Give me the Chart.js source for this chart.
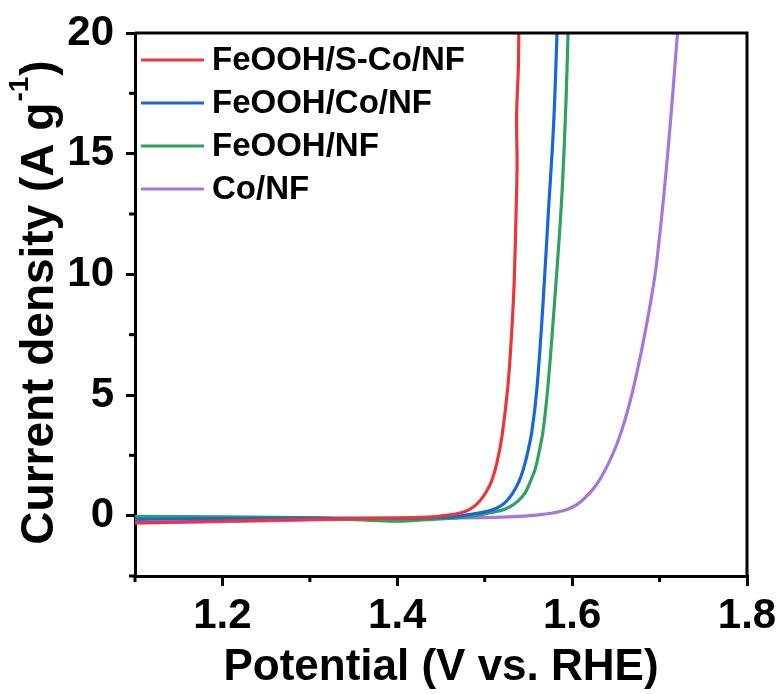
<!DOCTYPE html>
<html>
<head>
<meta charset="utf-8">
<script src="https://cdn.jsdelivr.net/npm/chart.js@4.4.1/dist/chart.umd.min.js"></script>
<style>
  html, body { margin: 0; padding: 0; background: #fff; }
  #wrap { width: 782px; height: 694px; }
</style>
</head>
<body>
<div id="wrap"><canvas id="lsv"></canvas></div>
<script>
// LSV curves, potential (V vs. RHE) against current density (A g-1)
var labels = ['FeOOH/S-Co/NF', 'FeOOH/Co/NF', 'FeOOH/NF', 'Co/NF'];
var colors = ['rgb(236,54,54)', 'rgb(24,102,222)', 'rgb(46,162,94)', 'rgb(168,116,222)'];

var redV = [1.10, 1.20, 1.30, 1.40, 1.44, 1.455, 1.467, 1.4775, 1.487, 1.4946, 1.502, 1.508, 1.514, 1.5198, 1.5266, 1.5305, 1.5335, 1.5355, 1.5370, 1.5365, 1.5385, 1.539];
var redJ = [-0.30, -0.22, -0.15, -0.10, -0.05, 0.01, 0.07, 0.17, 0.36, 0.62, 1.0, 1.45, 2.2, 3.3, 5.4, 7.4, 9.5, 12.0, 14.5, 16.6, 18.6, 20];

var blueV = [1.10, 1.20, 1.30, 1.40, 1.46, 1.482, 1.4946, 1.507, 1.517, 1.525, 1.532, 1.539, 1.544, 1.549, 1.554, 1.5598, 1.5667, 1.5735, 1.5775, 1.580, 1.5827];
var blueJ = [-0.15, -0.12, -0.10, -0.10, -0.06, 0.04, 0.12, 0.22, 0.37, 0.6, 0.93, 1.4, 1.9, 2.6, 3.5, 5.3, 8.8, 13.0, 15.3, 17.2, 20];

var greenV = [1.10, 1.20, 1.30, 1.36, 1.40, 1.44, 1.48, 1.495, 1.506, 1.519, 1.529, 1.538, 1.546, 1.552, 1.5575, 1.562, 1.5667, 1.5724, 1.580, 1.588, 1.593, 1.5953];
var greenJ = [-0.03, -0.05, -0.08, -0.18, -0.23, -0.15, -0.05, 0.04, 0.12, 0.22, 0.37, 0.6, 0.93, 1.4, 1.9, 2.6, 3.5, 5.4, 8.9, 13.1, 17.2, 20];

var purpleV = [1.10, 1.20, 1.30, 1.40, 1.50, 1.54, 1.563, 1.576, 1.586, 1.594, 1.601, 1.607, 1.6124, 1.618, 1.625, 1.632, 1.642, 1.651, 1.659, 1.666, 1.672, 1.678, 1.684, 1.690, 1.696, 1.706, 1.714, 1.7205];
var purpleJ = [-0.30, -0.25, -0.18, -0.13, -0.08, -0.03, 0.04, 0.10, 0.17, 0.26, 0.37, 0.50, 0.66, 0.86, 1.15, 1.52, 2.2, 2.95, 3.8, 4.7, 5.6, 6.6, 7.7, 8.9, 10.3, 13.7, 17.0, 20];

var xMin = 1.1, xMax = 1.8, xStep = 0.1;
var yMin = -2.5, yMax = 20, yStep = 2.5;

function pts(v, j) {
  var out = [];
  for (var i = 0; i < v.length; i++) out.push({x: v[i], y: j[i]});
  return out;
}

var series = [pts(redV, redJ), pts(blueV, blueJ), pts(greenV, greenJ), pts(purpleV, purpleJ)];
var datasets = [];
for (var i = 0; i < series.length; i++) {
  datasets.push({
    label: labels[i],
    data: series[i],
    borderColor: colors[i],
    borderWidth: 3.2,
    pointRadius: 0,
    showLine: true,
    fill: false,
    tension: 0.35
  });
}

function isMajorX(v) { return Math.round(v * 10) % 2 === 0; }
function isMajorY(v) { return Math.abs(v % 5) < 1e-6; }

var fontFam = '"Liberation Sans", Arial, sans-serif';

// frame on top/right, short minor ticks, y title with superscript, in-plot legend
var framePlugin = {
  id: 'frame',
  afterDraw: function(chart) {
    var ctx = chart.ctx, a = chart.chartArea;
    ctx.save();
    ctx.strokeStyle = '#000';
    ctx.lineWidth = 3;
    ctx.beginPath();
    ctx.moveTo(a.left, a.top);
    ctx.lineTo(a.right, a.top);
    ctx.lineTo(a.right, a.bottom);
    ctx.stroke();

    // minor ticks
    var xs = chart.scales.x, ys = chart.scales.y;
    xs.ticks.forEach(function(t) {
      if (isMajorX(t.value)) return;
      var px = xs.getPixelForValue(t.value);
      ctx.beginPath();
      ctx.moveTo(px, a.bottom);
      ctx.lineTo(px, a.bottom + 6);
      ctx.stroke();
    });
    ys.ticks.forEach(function(t) {
      if (isMajorY(t.value)) return;
      var py = ys.getPixelForValue(t.value);
      ctx.beginPath();
      ctx.moveTo(a.left, py);
      ctx.lineTo(a.left - 6, py);
      ctx.stroke();
    });

    // y axis title
    var main = 'Current density (A g', sup = '-1', tail = ')';
    var fMain = 'bold 46px ' + fontFam, fSup = 'bold 28px ' + fontFam;
    ctx.font = fMain;
    var w1 = ctx.measureText(main).width, w3 = ctx.measureText(tail).width;
    ctx.font = fSup;
    var w2 = ctx.measureText(sup).width;
    var total = w1 + w2 + 2 + w3;
    ctx.translate(53, (a.top + a.bottom) / 2 - 2);
    ctx.rotate(-Math.PI / 2);
    ctx.fillStyle = '#000';
    ctx.textAlign = 'left';
    ctx.textBaseline = 'alphabetic';
    var t = -total / 2;
    ctx.font = fMain;
    ctx.fillText(main, t, 0);
    ctx.font = fSup;
    ctx.fillText(sup, t + w1 + 1, -25);
    ctx.font = fMain;
    ctx.fillText(tail, t + w1 + w2 + 2, 0);
    ctx.setTransform(1, 0, 0, 1, 0, 0);

    // legend
    ctx.font = 'bold 33px ' + fontFam;
    ctx.textBaseline = 'middle';
    ctx.textAlign = 'left';
    chart.data.datasets.forEach(function(ds, k) {
      var y = a.top + 27 + k * 43;
      ctx.strokeStyle = ds.borderColor;
      ctx.lineWidth = 3;
      ctx.beginPath();
      ctx.moveTo(a.left + 6, y);
      ctx.lineTo(a.left + 69, y);
      ctx.stroke();
      ctx.fillStyle = '#000';
      ctx.fillText(ds.label, a.left + 77, y + 1);
    });
    ctx.restore();
  }
};

var ctx = document.getElementById('lsv').getContext('2d');
var chart = new Chart(ctx, {
  type: 'scatter',
  data: { datasets: datasets },
  options: {
    responsive: true,
    maintainAspectRatio: false,
    animation: false,
    layout: { padding: { left: 0, right: 35, top: 33, bottom: 0 } },
    plugins: { legend: { display: false }, tooltip: { enabled: false } },
    scales: {
      x: {
        type: 'linear',
        min: xMin, max: xMax,
        border: { display: true, color: '#000', width: 3 },
        grid: {
          drawOnChartArea: false, drawTicks: true, tickLength: 10, lineWidth: 3,
          tickColor: function(c) { return isMajorX(c.tick.value) ? '#000' : 'rgba(0,0,0,0)'; }
        },
        ticks: {
          stepSize: xStep, color: '#000', padding: 5, maxRotation: 0, autoSkip: false,
          font: { family: fontFam, size: 42, weight: 'bold' },
          callback: function(v) { return isMajorX(v) ? v.toFixed(1) : ''; }
        },
        title: {
          display: true, text: 'Potential (V vs. RHE)', color: '#000',
          font: { family: fontFam, size: 44, weight: 'bold' }, padding: { top: 0, bottom: 0 }
        },
        afterFit: function(s) { s.height = 118; s.paddingLeft = 0; s.paddingRight = 0; }
      },
      y: {
        type: 'linear',
        min: yMin, max: yMax,
        border: { display: true, color: '#000', width: 3 },
        grid: {
          drawOnChartArea: false, drawTicks: true, tickLength: 9, lineWidth: 3,
          tickColor: function(c) { return isMajorY(c.tick.value) ? '#000' : 'rgba(0,0,0,0)'; }
        },
        ticks: {
          stepSize: yStep, color: '#000', padding: 12, autoSkip: false,
          font: { family: fontFam, size: 42, weight: 'bold' },
          callback: function(v) { return isMajorY(v) ? String(v) : ''; }
        },
        title: { display: false },
        afterFit: function(s) { s.width = 135; s.paddingTop = 0; s.paddingBottom = 0; }
      }
    }
  },
  plugins: [framePlugin]
});
</script>
</body>
</html>
